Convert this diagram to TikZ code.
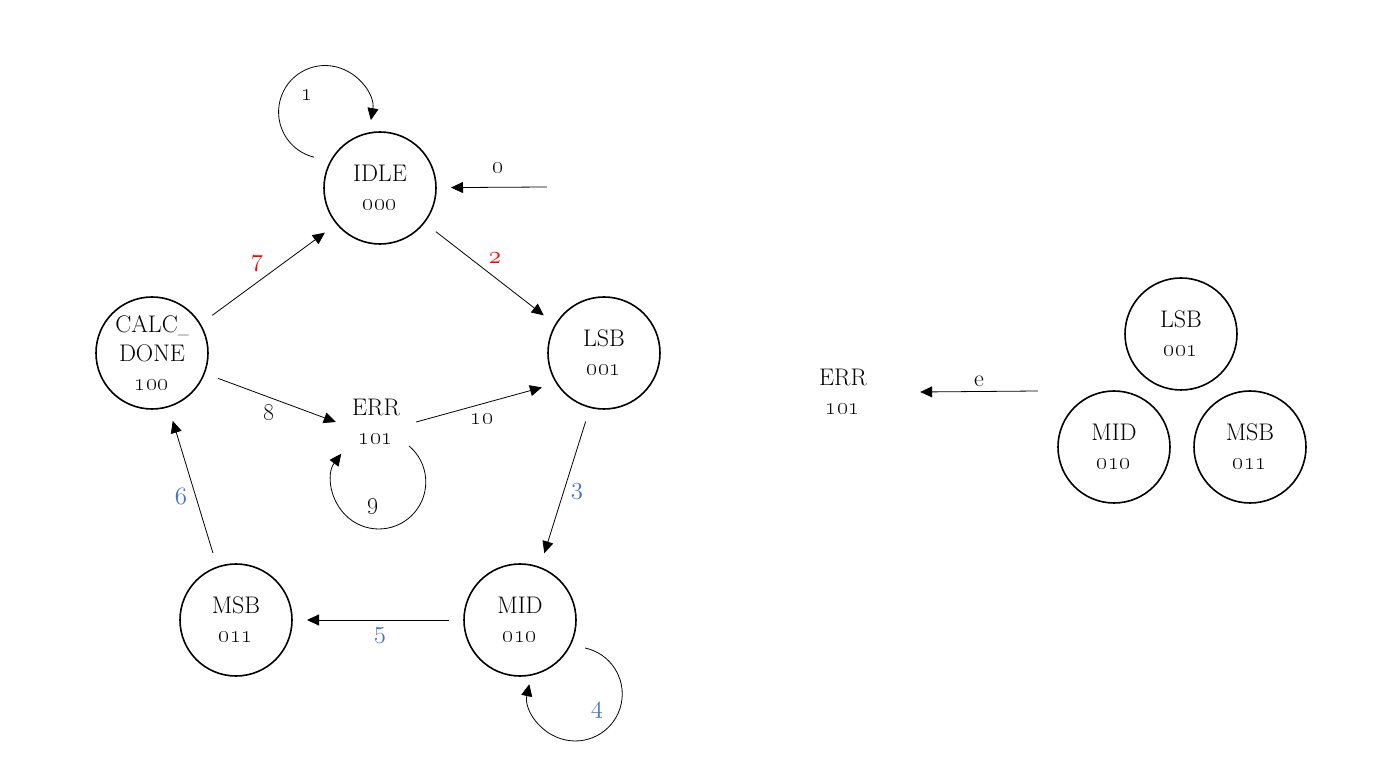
\documentclass[tikz,border=0pt]{standalone}
\usepackage{graphicx}
\usetikzlibrary{arrows.meta,calc}
\definecolor{lblue}{RGB}{68,114,196}
\definecolor{lred}{RGB}{255,0,0}
\newcommand{\dg}[1]{{\fontsize{27}{29}\selectfont\oldstylenums{#1}}}
\newcommand{\cdg}[1]{{\fontsize{27}{29}\selectfont$\mathnormal{#1}$}}
\begin{document}
\begin{tikzpicture}[x=1pt,y=1pt,
  font=\fontsize{24}{29}\selectfont,
  state/.style={circle,draw,line width=1.6pt,minimum size=112pt,inner sep=0pt,outer sep=15pt,align=center},
  plain/.style={inner sep=0pt,align=center},
  edge/.style={line width=0.8pt,-{Triangle[length=12pt,width=11pt]}},
  lbl/.style={inner sep=0pt}]
\useasboundingbox (0,0) rectangle (1384,769);
% left machine
\node[state] (idle) at (380,581) {IDLE\\\dg{000}};
\node[state] (lsb)  at (604,416) {LSB\\\dg{001}};
\node[state] (calc) at (152,416) {CALC\scalebox{0.65}[1]{\_}\\DONE\\\dg{100}};
\node[state] (msb)  at (236,149) {MSB\\\dg{011}};
\node[state] (mid)  at (520,149) {MID\\\dg{010}};
\node[plain,minimum width=80pt] (err) at (376,347) {ERR\\\dg{101}};
\coordinate (start0) at (547,582);
% right part
\node[plain,minimum width=154pt] (err2) at (843,377) {ERR\\\dg{101}};
\node[state] (lsb2) at (1181,435) {LSB\\\dg{001}};
\node[state] (mid2) at (1114,322) {MID\\\dg{010}};
\node[state] (msb2) at (1250,322) {MSB\\\dg{011}};
\coordinate (starte) at (1038,378);
% edges
\draw[edge] (start0) -- (idle);
\draw[edge] ([shift={(155:73)}]idle.center) arc[start angle=256,end angle=-10,radius=46.5];
\draw[edge] (idle.-38) -- (lsb.148);
\draw[edge] (lsb.255) -- (mid.70);
\draw[edge] ([shift={(-23.3:70.8)}]mid.center) arc[start angle=78,end angle=-192,radius=47];
\draw[edge] (mid) -- (msb);
\draw[edge] (msb.109) -- (calc.-73);
\draw[edge] (calc.32) -- (idle.219);
\draw[edge] (calc.-21) -- (err.west);
\draw[edge] ([shift={(-36:40.8)}]err.center) arc[start angle=50,end angle=-217,radius=47];
\draw[edge] (err.east) -- (lsb.209);
\draw[edge] (starte) -- (err2.east);
% labels
\node[lbl] (l0) at (498,601) {\dg{0}};
\node[lbl] (l1) at (307,674) {\dg{1}};
\node[lbl,text=lred] (l2) at (495,511) {\cdg{2}};
\node[lbl,text=lblue] (l3) at (577,277) {\cdg{3}};
\node[lbl,text=lblue] (l4) at (597,58) {\cdg{4}};
\node[lbl,text=lblue] (l5) at (380,133) {\cdg{5}};
\node[lbl,text=lblue] (l6) at (181,273) {\cdg{6}};
\node[lbl,text=lred] (l7) at (257,505) {\cdg{7}};
\node[lbl] (l8) at (269,357) {\dg{8}};
\node[lbl] (l9) at (373,262) {\dg{9}};
\node[lbl] (l10) at (482,350) {\dg{10}};
\node[lbl] (le) at (979,388) {e};
\end{tikzpicture}
\end{document}
